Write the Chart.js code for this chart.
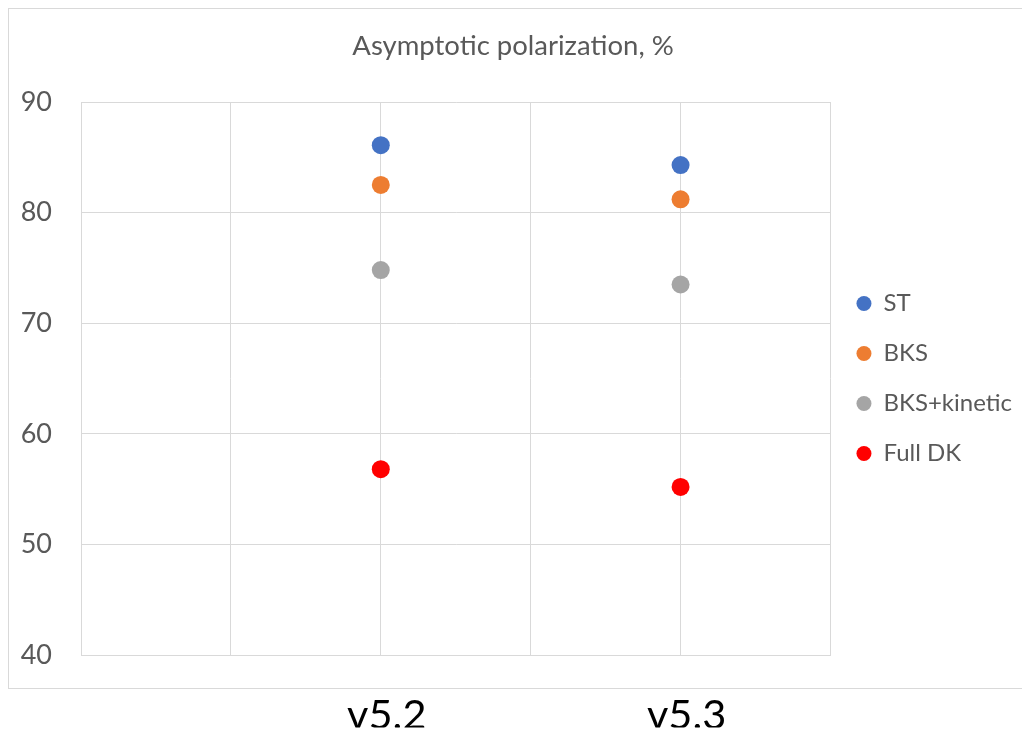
<!DOCTYPE html>
<html>
<head>
<meta charset="utf-8">
<script src="https://cdn.jsdelivr.net/npm/chart.js@4.4.1/dist/chart.umd.min.js"></script>
<style>
  html, body { margin: 0; padding: 0; background: #ffffff; }
  #wrap { width: 1022px; height: 731px; }
</style>
</head>
<body>
<div id="wrap"><canvas id="c" width="1022" height="731"></canvas></div>
<script>
// ---- data ----
const categories = ['v5.2', 'v5.3'];
const seriesNames = ['ST', 'BKS', 'BKS+kinetic', 'Full DK'];
const stValues = [86.1, 84.3];
const bksValues = [82.5, 81.2];
const bksKineticValues = [74.8, 73.5];
const fullDkValues = [56.8, 55.2];
const yTickValues = [40, 50, 60, 70, 80, 90];
const titleText = 'Asymptotic polarization, %';

// ---- styles ----
const colors = ['#4472C4', '#ED7D31', '#A5A5A5', '#FF0000'];
const textColor = '#595959';
const gridColor = '#D9D9D9';
const FONT = 'Lato, "Open Sans", sans-serif';

// category i sits on grid slot 2*(i+1) of a 0..5 axis
const slotOf = i => 2 * (i + 1);
const allSeries = [stValues, bksValues, bksKineticValues, fullDkValues];

const datasets = allSeries.map((vals, s) => ({
  label: seriesNames[s],
  data: vals.map((v, i) => ({ x: slotOf(i), y: v })),
  backgroundColor: colors[s],
  borderColor: colors[s],
  borderWidth: 0,
  pointRadius: 9,
  pointHoverRadius: 9,
  pointBorderWidth: 0,
  showLine: false
}));

const labelAt = {};
categories.forEach((c, i) => { labelAt[slotOf(i)] = c; });

const framePlugin = {
  id: 'frame',
  beforeDraw(chart) {
    const ctx = chart.ctx;
    ctx.save();
    ctx.fillStyle = '#ffffff';
    ctx.fillRect(0, 0, chart.width, chart.height);
    ctx.strokeStyle = gridColor;
    ctx.lineWidth = 1;
    ctx.strokeRect(8.5, 8.5, 1030, 680);
    ctx.restore();
  }
};

new Chart(document.getElementById('c'), {
  type: 'scatter',
  data: { datasets },
  plugins: [framePlugin],
  options: {
    responsive: false,
    animation: false,
    layout: { padding: { left: 4, right: 0, top: 0, bottom: 3.5 } },
    plugins: {
      title: {
        display: true,
        text: titleText,
        color: textColor,
        font: { family: FONT, size: 27.5, weight: 'normal' },
        padding: { top: 30, bottom: 39 }
      },
      legend: {
        display: true,
        position: 'right',
        align: 'center',
        fullSize: false,
        labels: {
          usePointStyle: true,
          pointStyle: 'circle',
          boxHeight: 10.6,
          pointStyleWidth: 15,
          padding: 26,
          color: textColor,
          font: { family: FONT, size: 24 }
        }
      },
      tooltip: { enabled: false }
    },
    scales: {
      x: {
        type: 'linear',
        min: 0,
        max: 5,
        afterFit: scale => { scale.height = 72.5; },
        grid: { color: gridColor, lineWidth: 1, drawTicks: false },
        border: { color: gridColor, width: 1 },
        ticks: {
          stepSize: 1,
          padding: 44.5,
          labelOffset: 6,
          color: '#000000',
          font: { family: FONT, size: 41.5, lineHeight: 0.8 },
          maxRotation: 0,
          autoSkip: false,
          callback: v => labelAt[v] || ''
        }
      },
      y: {
        type: 'linear',
        position: 'left',
        min: 40,
        max: 90,
        afterBuildTicks: scale => { scale.ticks = yTickValues.map(v => ({ value: v })); },
        afterFit: scale => { scale.width = 77; },
        grid: { color: gridColor, lineWidth: 1, drawTicks: false },
        border: { color: gridColor, width: 1 },
        ticks: {
          padding: 29,
          color: textColor,
          font: { family: FONT, size: 27 }
        }
      }
    }
  }
});
</script>
</body>
</html>
